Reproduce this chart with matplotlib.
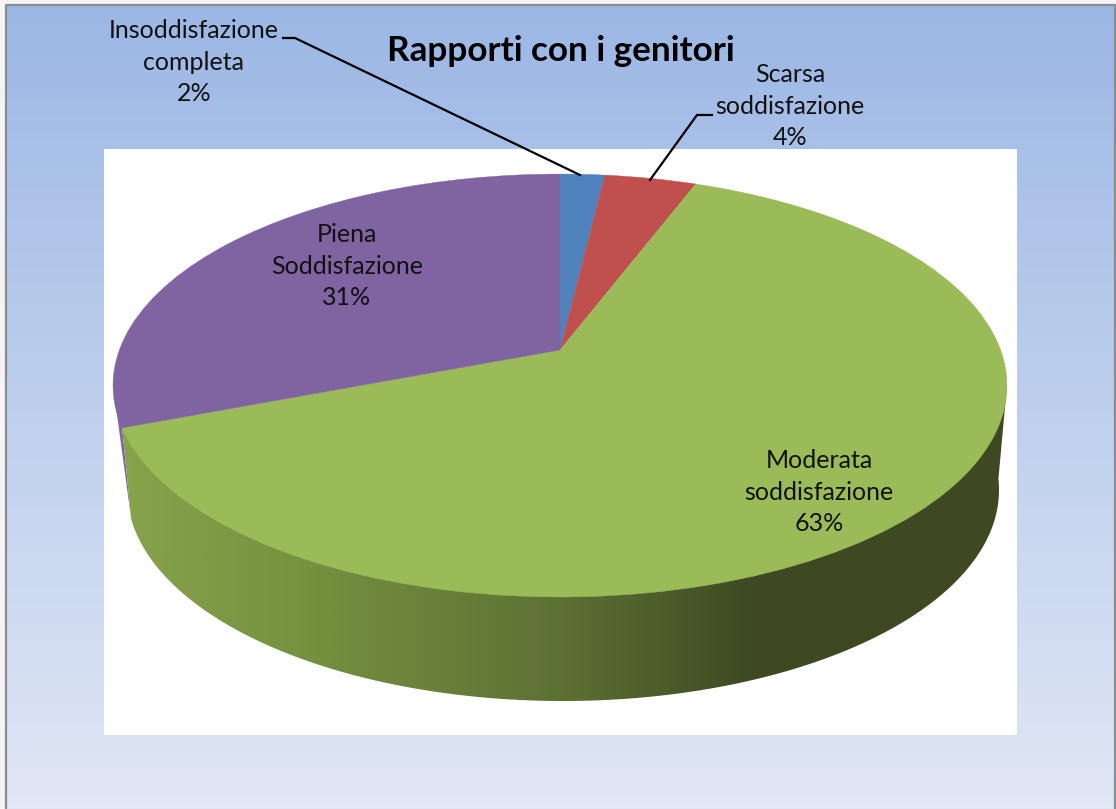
import numpy as np
import matplotlib
matplotlib.use("Agg")
import matplotlib.pyplot as plt
from matplotlib.colors import LinearSegmentedColormap
from matplotlib.patches import Polygon, Rectangle
from matplotlib.transforms import Transform

categories = ["Insoddisfazione\ncompleta", "Scarsa\nsoddisfazione",
              "Moderata\nsoddisfazione", "Piena\nSoddisfazione"]
values = [1.9, 3.9, 63.4, 30.8]
colors = ["#4F81BD", "#C0504D", "#9BBB59", "#8064A2"]
title = "Rapporti con i genitori"

plt.rcParams["font.family"] = ["Lato", "DejaVu Sans"]
W, H = 1116, 809
CX, CY, RA, RB, K = 560.0, 350.0, 440.6, 205.5, 0.168


class Perspective(Transform):
    input_dims = output_dims = 2
    is_affine = False
    has_inverse = False

    def transform_non_affine(self, pts):
        pts = np.asarray(pts, float)
        d = 1 + K * pts[:, 1]
        return np.column_stack([CX + RA * pts[:, 0] / d, CY - RB * pts[:, 1] / d])


fig = plt.figure(figsize=(W / 100, H / 100), dpi=100, facecolor="#F4F4F4")
ax = fig.add_axes([0, 0, 1, 1])
persp = Perspective()
wedges, _ = ax.pie(values, colors=colors, startangle=90, counterclock=False,
                   wedgeprops=dict(transform=persp + ax.transData, zorder=6, linewidth=0.3))
for w, c in zip(wedges, colors):
    w.set_edgecolor(c)

ax.set_aspect("auto")
ax.axis("off")

# page background
bg = LinearSegmentedColormap.from_list("bg", [(0, "#9BB7E4"), (0.18, "#A9C0E8"), (1, "#E0E7F5")])
ax.imshow(np.linspace(0, 1, 256)[:, None], cmap=bg, extent=(5.5, 1115, 809, 4.5),
          aspect="auto", zorder=1, interpolation="bilinear")
ax.plot([5.5, 5.5, 1115, 1115], [809, 4.5, 4.5, 809], color="#8C8C8C", lw=1.6, zorder=2)
ax.add_patch(Rectangle((104, 149), 913, 586, fc="white", ec="none", zorder=3))

# extruded rim: lower outline of the pie
BX, BY, BA, BB = 563.0, 490.0, 436.0, 211.0
ang_end = np.deg2rad(90 - 3.6 * sum(values[:3]))
end_pt = persp.transform_non_affine(np.array([[np.cos(ang_end), np.sin(ang_end)]]))[0]
t = np.linspace(np.deg2rad(172), np.deg2rad(-3), 240)
low = np.column_stack([BX + BA * np.cos(t), BY + BB * np.sin(t)])
right_pt = persp.transform_non_affine(np.array([[np.sqrt(1 - K * K), -K]]))[0]
left_pt = persp.transform_non_affine(np.array([[-np.sqrt(1 - K * K), -K]]))[0]

ax.add_patch(Polygon([left_pt, low[0], end_pt], fc=colors[3], ec="none", zorder=4))
rim = Polygon(np.vstack([[end_pt], low, [right_pt], [(CX, CY + 60)]]), fc="none", ec="none",
              transform=ax.transData)
ax.add_patch(rim)
shade = LinearSegmentedColormap.from_list(
    "rim", [(0, "#87A34B"), (0.2, "#779240"), (0.5, "#5C7034"), (0.71, "#3E4A22"), (1, "#3F4923")])
im = ax.imshow(np.linspace(0, 1, 512)[None, :], cmap=shade, extent=(120, 1010, 710, 380),
               aspect="auto", zorder=5, interpolation="bilinear")
im.set_clip_path(rim)
ax.set_xlim(0, W)
ax.set_ylim(H, 0)

# leader lines
ax.plot([283, 295, 580], [38, 38, 175], color="black", lw=1.6, zorder=7, solid_joinstyle="miter")
ax.plot([712, 697, 650], [115, 115, 180], color="black", lw=1.6, zorder=7, solid_joinstyle="miter")

# labels
label_xy = [(194, 62), (790, 106), (819, 492), (347, 266)]
for cat, v, (x, y) in zip(categories, values, label_xy):
    ax.text(x, y, f"{cat}\n{v:.0f}%", ha="center", va="center", fontsize=18, color="#111111",
            linespacing=1.47, zorder=8)
ax.text(561, 51, title, ha="center", va="center", fontsize=25.3, fontweight="bold",
        color="black", zorder=8)

fig.savefig("out.png", dpi=100, facecolor=fig.get_facecolor())
